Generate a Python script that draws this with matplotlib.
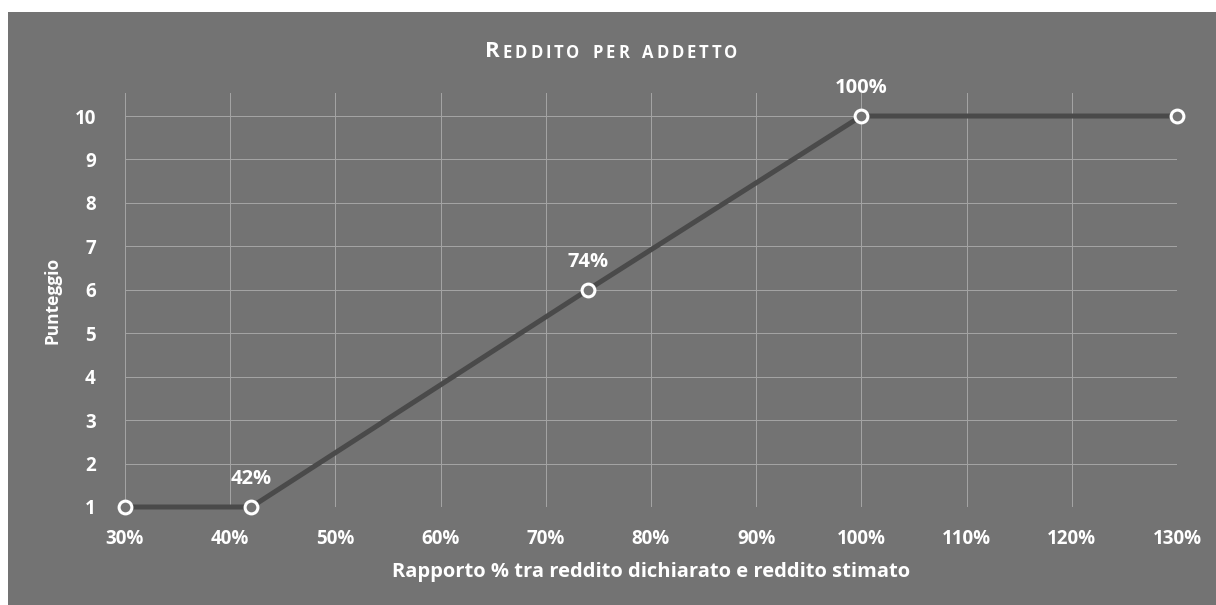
import matplotlib.pyplot as plt
from matplotlib.patches import Rectangle
from matplotlib.ticker import FuncFormatter

# dati
rapporto = [0.30, 0.42, 0.74, 1.00, 1.30]
punteggio = [1, 1, 6, 10, 10]
etichette = ["", "42%", "74%", "100%", ""]

x_ticks = [0.3, 0.4, 0.5, 0.6, 0.7, 0.8, 0.9, 1.0, 1.1, 1.2, 1.3]
y_ticks = list(range(1, 11))

titolo = "Reddito per addetto"

bg = "#737373"
grid_col = "#a3a3a3"
line_col = "#4a4a4a"
font = "Open Sans"

fig = plt.figure(figsize=(12.16, 6.05), dpi=100, facecolor="white")
fig.patches.append(Rectangle((8 / 1216, 0), 1, (605 - 12) / 605, transform=fig.transFigure,
                             facecolor=bg, edgecolor="none", zorder=-5))

ax = fig.add_axes([125 / 1216, 1 - 507 / 605, (1177 - 125) / 1216, (507 - 93) / 605])
ax.patch.set_alpha(0)

ax.plot(rapporto, punteggio, color=line_col, lw=3.6, marker="o", ms=9.2,
        mfc=bg, mec="white", mew=2.2, clip_on=False, zorder=3)

for x, y, lab in zip(rapporto, punteggio, etichette):
    if lab:
        ax.annotate(lab, (x, y), xytext=(0, 16.5), textcoords="offset points",
                    ha="center", va="baseline", color="white", fontsize=14.5,
                    fontweight="bold", family=font)

ax.set_xlim(0.3, 1.3)
ax.set_ylim(1, 10.53)
ax.set_xticks(x_ticks)
ax.set_yticks(y_ticks)
ax.xaxis.set_major_formatter(FuncFormatter(lambda v, p: f"{v * 100:.0f}%"))
ax.grid(True, color=grid_col, lw=0.75)
ax.set_axisbelow(True)
for s in ax.spines.values():
    s.set_visible(False)
ax.tick_params(length=0, colors="white", labelsize=13.5, pad=16)
ax.tick_params(axis="y", pad=21)
for lab in ax.get_xticklabels() + ax.get_yticklabels():
    lab.set_fontweight("bold")
    lab.set_family(font)

ax.set_xlabel("Rapporto % tra reddito dichiarato e reddito stimato", color="white",
              fontsize=14.5, fontweight="bold", family=font, labelpad=9)
ax.set_ylabel("Punteggio", color="white", fontsize=12.5, fontweight="bold",
              family=font, labelpad=9.5)

# titolo in maiuscoletto, lettera per lettera con spaziatura
prev = fig.text(485 / 1216, 1 - 56.7 / 605, titolo[0], color="white", fontsize=16,
                fontweight="bold", family=font, ha="left", va="baseline")
for ch in titolo[1:]:
    if ch == " ":
        prev = ax.annotate(" ", xy=(1, 0), xycoords=prev, xytext=(4, 0),
                           textcoords="offset points", fontsize=12, family=font,
                           ha="left", va="bottom")
        continue
    prev = ax.annotate(ch.upper(), xy=(1, 0), xycoords=prev, xytext=(2.1, 0),
                       textcoords="offset points", color="white", fontsize=12,
                       fontweight="bold", family=font, ha="left", va="bottom")

fig.savefig("out.png", dpi=100, facecolor="white")
